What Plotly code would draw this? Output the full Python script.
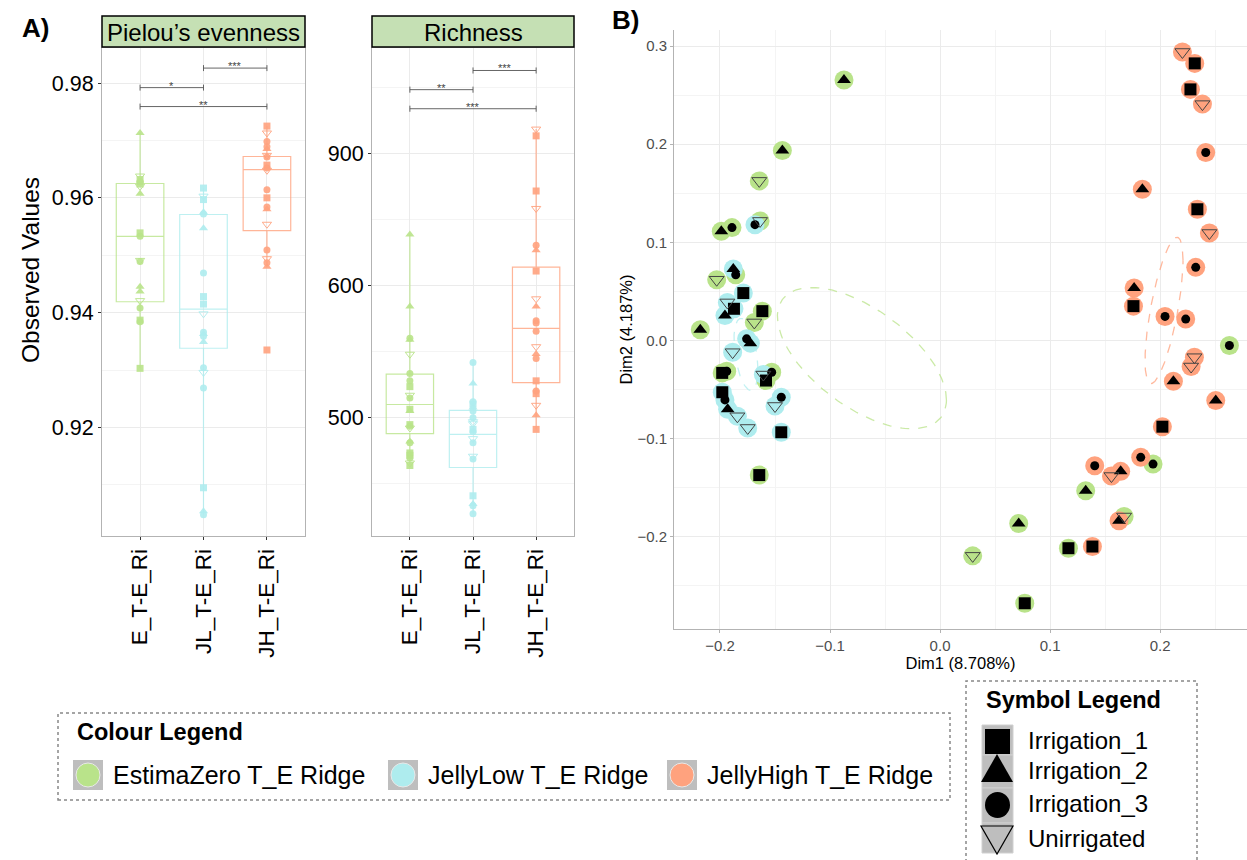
import numpy as np
import plotly.graph_objects as go

W, H = 1247, 860
FONT = "Liberation Sans, Arial, Helvetica, sans-serif"

# ---------------- data ----------------
groups = ["E_T-E_Ri", "JL_T-E_Ri", "JH_T-E_Ri"]
group_names = ["EstimaZero T_E Ridge", "JellyLow T_E Ridge", "JellyHigh T_E Ridge"]
group_colors = ["#B9E38A", "#AEECEE", "#FFA27E"]
irrig_levels = ["Irrigation_1", "Irrigation_2", "Irrigation_3", "Unirrigated"]
irrig_codes = ["S", "T", "C", "D"]

# Pielou's evenness: (irrigation code, value) per sample
pielou_E = [("T", 0.9713), ("D", 0.9638), ("S", 0.9632), ("C", 0.9628), ("S", 0.9624), ("D", 0.9620),
            ("T", 0.9607), ("S", 0.9539), ("C", 0.9533), ("D", 0.9491), ("C", 0.9489), ("T", 0.9445),
            ("T", 0.9437), ("D", 0.9421), ("C", 0.9408), ("S", 0.9387), ("C", 0.9384), ("S", 0.9303)]
pielou_JL = [("S", 0.9617), ("D", 0.9603), ("S", 0.9597), ("T", 0.9575), ("C", 0.9572), ("T", 0.9547),
             ("C", 0.9469), ("S", 0.9428), ("S", 0.9415), ("D", 0.9398), ("C", 0.9366), ("T", 0.9363),
             ("C", 0.9359), ("T", 0.9349), ("C", 0.9304), ("D", 0.9296), ("C", 0.9269), ("S", 0.9095),
             ("T", 0.9054), ("C", 0.9048)]
pielou_JH = [("S", 0.9725), ("D", 0.9713), ("C", 0.9698), ("C", 0.9689), ("T", 0.9685), ("D", 0.9674),
             ("C", 0.9671), ("S", 0.9657), ("C", 0.9652), ("D", 0.9648), ("C", 0.9614), ("S", 0.9600),
             ("C", 0.9584), ("T", 0.9580), ("D", 0.9554), ("C", 0.9509), ("D", 0.9494), ("C", 0.9487),
             ("T", 0.9480), ("S", 0.9335)]
pielou_q1 = [0.9419, 0.9338, 0.9543]
pielou_median = [0.9533, 0.9406, 0.9649]
pielou_q3 = [0.9625, 0.9571, 0.9672]
pielou_lower = [0.9303, 0.9048, 0.9480]
pielou_upper = [0.9713, 0.9617, 0.9725]
pielou_ticks = [0.92, 0.94, 0.96, 0.98]
pielou_tick_labels = ["0.92", "0.94", "0.96", "0.98"]
pielou_brackets = [(0, 1, 0.9792, "*"), (1, 2, 0.9826, "***"), (0, 2, 0.9759, "**")]

# Richness (values on the panel's linear position scale; tick labels as printed in the figure)
rich_E = [("T", 638.5), ("T", 584.0), ("C", 560.0), ("T", 559.0), ("D", 548.0), ("C", 533.4), ("C", 528.0),
          ("S", 523.5), ("D", 517.0), ("C", 515.0), ("S", 506.4), ("T", 505.0), ("S", 494.8), ("C", 493.5),
          ("D", 492.2), ("T", 482.0), ("C", 481.0), ("S", 473.4), ("S", 471.6), ("C", 469.6), ("D", 465.8),
          ("S", 463.9)]
rich_JL = [("C", 541.8), ("T", 525.8), ("C", 512.0), ("S", 510.2), ("T", 507.7), ("C", 505.1), ("C", 500.0),
           ("D", 497.0), ("D", 495.5), ("S", 491.2), ("C", 489.4), ("D", 484.2), ("C", 481.0), ("D", 470.9),
           ("C", 468.9), ("S", 441.0), ("T", 434.7), ("C", 433.5), ("C", 427.4)]
rich_JH = [("D", 718.2), ("S", 713.1), ("S", 671.4), ("D", 658.2), ("C", 630.4), ("T", 626.6), ("S", 610.9),
           ("D", 589.9), ("T", 584.0), ("C", 573.4), ("C", 571.7), ("C", 565.3), ("D", 553.7), ("T", 548.1),
           ("C", 544.8), ("S", 527.9), ("C", 520.3), ("S", 518.2), ("D", 509.4), ("T", 501.8), ("S", 491.2)]
rich_q1 = [488.0, 462.4, 526.6]
rich_median = [510.0, 487.4, 567.6]
rich_q3 = [533.0, 505.6, 613.9]
rich_lower = [464.0, 427.4, 491.2]
rich_upper = [638.5, 541.8, 718.2]
rich_tick_pos = [500, 600, 700]
rich_tick_labels = ["500", "600", "900"]
rich_brackets = [(0, 1, 748.0, "**"), (1, 2, 762.5, "***"), (0, 2, 733.6, "***")]

# PCoA ordination: Dim1, Dim2, group index, irrigation code
pc_x = [-0.0873, -0.1433, -0.1643, -0.1636, -0.1988, -0.1891, -0.1857, -0.2030, -0.1615, -0.1688,
        -0.2179, -0.1980, -0.1939, -0.1530, -0.1582, -0.1643, 0.2630, 0.1936, 0.1324, 0.1673,
        0.0715, 0.1167, 0.0297, 0.0770,
        -0.1682, -0.1879, -0.1788, -0.1933, -0.1873, -0.1955, -0.1758, -0.1724, -0.1885, -0.1606,
        -0.1979, -0.1955, -0.1930, -0.1842, -0.1443, -0.1500, -0.1748, -0.1443,
        0.2203, 0.2315, 0.2276, 0.2385, 0.2415, 0.1839, 0.2339, 0.2448, 0.2324, 0.1764, 0.1758,
        0.2045, 0.2233, 0.2312, 0.2282, 0.2121, 0.2506, 0.2021, 0.1824, 0.1406, 0.1558, 0.1642,
        0.1627, 0.1385]
pc_y = [0.2653, 0.1935, 0.1626, 0.1218, 0.1112, 0.1150, 0.0670, 0.0619, 0.0299, 0.0184,
        0.0109, -0.0330, -0.0313, -0.0323, -0.0408, -0.1371, -0.0051, -0.1259, -0.1531, -0.1793,
        -0.1864, -0.2116, -0.2194, -0.2677,
        0.1180, 0.0728, 0.0483, 0.0388, 0.0323, 0.0255, 0.0017, -0.0027, -0.0119, -0.0347,
        -0.0527, -0.0605, -0.0701, -0.0772, -0.0578, -0.0667, -0.0891, -0.0935,
        0.2939, 0.2823, 0.2558, 0.2408, 0.1915, 0.1541, 0.1337, 0.1095, 0.0745, 0.0534, 0.0350,
        0.0245, 0.0218, -0.0170, -0.0265, -0.0415, -0.0612, -0.0878, -0.1190, -0.1276, -0.1381, -0.1333,
        -0.1837, -0.2099]
pc_group = [0] * 24 + [1] * 18 + [2] * 24
pc_irrig = ["T", "T", "D", "D", "T", "C", "C", "D", "S", "D",
            "T", "S", "C", "C", "S", "S", "C", "C", "T", "D",
            "T", "S", "D", "S",
            "C", "T", "S", "D", "S", "T", "C", "T", "D", "D",
            "S", "C", "T", "D", "C", "D", "D", "S",
            "D", "S", "S", "D", "C", "T", "S", "D", "C", "T", "S",
            "C", "C", "D", "D", "T", "T", "S", "C", "C", "D", "T",
            "T", "S"]

# 95% ellipses (centre, covariance) per group
ell_center = [(-0.071, -0.018), (-0.1764, -0.0143), (0.2036, 0.0306)]
ell_cov = [[[0.00590, -0.00327], [-0.00327, 0.00518]],
           [[0.000119, -0.000167], [-0.000167, 0.00135]],
           [[0.000298, 0.00088], [0.00088, 0.00555]]]

# ---------------- helpers ----------------
def PX(px):
    return px / W


def PY(py):
    return 1 - py / H


small_symbol = {"S": "square", "T": "triangle-up", "C": "circle", "D": "triangle-down-open"}
small_size = {"S": 7, "T": 8, "C": 7, "D": 8}
big_symbol = {"S": "square", "T": "triangle-up", "C": "circle", "D": "triangle-down-open"}
big_size = {"S": 12, "T": 12, "C": 9, "D": 13}


def hex_rgba(h, a):
    h = h.lstrip("#")
    r, g, b = int(h[0:2], 16), int(h[2:4], 16), int(h[4:6], 16)
    return f"rgba({r},{g},{b},{a})"


fig = go.Figure()
shapes = []
annotations = []

# ---------------- panel A: box plots ----------------
panels = [
    dict(xa="x", ya="y", data=[pielou_E, pielou_JL, pielou_JH], q1=pielou_q1, med=pielou_median,
         q3=pielou_q3, lo=pielou_lower, hi=pielou_upper, br=pielou_brackets, tick=0.00052),
    dict(xa="x2", ya="y2", data=[rich_E, rich_JL, rich_JH], q1=rich_q1, med=rich_median,
         q3=rich_q3, lo=rich_lower, hi=rich_upper, br=rich_brackets, tick=2.3),
]
for p in panels:
    for gi in range(3):
        fig.add_trace(go.Box(
            x=[gi], q1=[p["q1"][gi]], median=[p["med"][gi]], q3=[p["q3"][gi]],
            lowerfence=[p["lo"][gi]], upperfence=[p["hi"][gi]],
            width=0.75, whiskerwidth=0, boxpoints=False,
            line=dict(color=hex_rgba(group_colors[gi], 0.8), width=1.2),
            fillcolor="rgba(255,255,255,0)", xaxis=p["xa"], yaxis=p["ya"],
            showlegend=False, hoverinfo="skip"))
    for gi in range(3):
        for code in irrig_codes:
            ys = [v for c, v in p["data"][gi] if c == code]
            if not ys:
                continue
            fig.add_trace(go.Scatter(
                x=[gi] * len(ys), y=ys, mode="markers", xaxis=p["xa"], yaxis=p["ya"],
                marker=dict(symbol=small_symbol[code], size=small_size[code],
                            color=hex_rgba(group_colors[gi], 0.9),
                            line=dict(width=1 if code == "D" else 0, color=hex_rgba(group_colors[gi], 0.9))),
                showlegend=False, hoverinfo="skip"))
    bx, by = [], []
    for i, j, yv, lab in p["br"]:
        d = p["tick"]
        bx += [i, i, None, i, j, None, j, j, None]
        by += [yv - d, yv + d, None, yv, yv, None, yv - d, yv + d, None]
        annotations.append(dict(x=(i + j) / 2, y=yv, xref=p["xa"], yref=p["ya"], text=lab, showarrow=False,
                                font=dict(size=11, color="#444", family=FONT), yanchor="middle", yshift=2))
    fig.add_trace(go.Scatter(x=bx, y=by, mode="lines", xaxis=p["xa"], yaxis=p["ya"],
                             line=dict(color="#555", width=0.9), showlegend=False, hoverinfo="skip"))

# ---------------- panel B: PCoA ----------------
for gi in range(3):
    c = np.array(ell_center[gi])
    L = np.linalg.cholesky(np.array(ell_cov[gi]))
    t = np.linspace(0, 2 * np.pi, 200)
    pts = c[:, None] + L @ np.vstack([np.cos(t), np.sin(t)])
    fig.add_trace(go.Scatter(x=pts[0], y=pts[1], mode="lines", xaxis="x3", yaxis="y3",
                             line=dict(color=hex_rgba(group_colors[gi], 0.75), width=1.3, dash="dash"),
                             showlegend=False, hoverinfo="skip"))

pcx = np.array(pc_x)
pcy = np.array(pc_y)
pcg = np.array(pc_group)
pci = np.array(pc_irrig)
for gi in range(3):
    m = pcg == gi
    fig.add_trace(go.Scatter(x=pcx[m], y=pcy[m], mode="markers", xaxis="x3", yaxis="y3",
                             marker=dict(symbol="circle", size=19, color=group_colors[gi], line=dict(width=0)),
                             name=group_names[gi], showlegend=False))
for code, lev in zip(irrig_codes, irrig_levels):
    m = pci == code
    fig.add_trace(go.Scatter(x=pcx[m], y=pcy[m], mode="markers", xaxis="x3", yaxis="y3",
                             marker=dict(symbol=big_symbol[code], size=big_size[code],
                                         color="black" if code != "D" else "#444",
                                         line=dict(width=1 if code == "D" else 0, color="#444")),
                             name=lev, showlegend=False))

# ---------------- axes ----------------
grid = "#ebebeb"
minor_grid = "#f4f4f4"
frame = "#b3b3b3"
ax_common = dict(showline=True, linecolor=frame, linewidth=1, ticks="outside", ticklen=3,
                 tickcolor="#333", automargin=False, zeroline=False, showgrid=True, gridcolor=grid)

xA = dict(ax_common, range=[-0.6, 2.6], tickmode="array", tickvals=[0, 1, 2], ticktext=groups,
          tickangle=-90, mirror=True, tickfont=dict(size=22.5, color="black", family=FONT))
fig.update_layout(
    xaxis=dict(xA, domain=[PX(102), PX(305)], anchor="y"),
    yaxis=dict(ax_common, domain=[PY(536), PY(48)], anchor="x", mirror=True, range=[0.9011, 0.9861],
               tickmode="array", tickvals=pielou_ticks, ticktext=pielou_tick_labels,
               tickfont=dict(size=21.5, color="black", family=FONT),
               minor=dict(tickmode="array", tickvals=[0.91, 0.93, 0.95, 0.97], showgrid=True,
                          gridcolor=minor_grid)),
    xaxis2=dict(xA, domain=[PX(372), PX(574)], anchor="y2"),
    yaxis2=dict(ax_common, domain=[PY(536), PY(48)], anchor="x2", mirror=True, range=[410.6, 779.5],
                tickmode="array", tickvals=rich_tick_pos, ticktext=rich_tick_labels,
                tickfont=dict(size=21.5, color="black", family=FONT),
                minor=dict(tickmode="array", tickvals=[450, 550, 650, 750], showgrid=True,
                           gridcolor=minor_grid)),
    xaxis3=dict(ax_common, domain=[PX(674), 1.0], anchor="y3", range=[-0.2418, 0.279],
                tickmode="linear", tick0=0, dtick=0.1, tickformat=".1f", tickcolor=frame,
                tickfont=dict(size=15, color="#4d4d4d", family=FONT),
                minor=dict(dtick=0.05, tick0=0, showgrid=True, gridcolor=minor_grid),
                title=dict(text="Dim1 (8.708%)", font=dict(size=16.5, color="black", family=FONT), standoff=3)),
    yaxis3=dict(ax_common, domain=[PY(629), PY(30)], anchor="x3", range=[-0.2939, 0.3163],
                tickmode="linear", tick0=0, dtick=0.1, tickformat=".1f", tickcolor=frame,
                tickfont=dict(size=15, color="#4d4d4d", family=FONT),
                minor=dict(dtick=0.05, tick0=0, showgrid=True, gridcolor=minor_grid),
                title=dict(text="Dim2 (4.187%)", font=dict(size=16.5, color="black", family=FONT), standoff=0)),
)

# ---------------- strips, labels ----------------
for (x0, x1), label in [((102, 305), "Pielou’s evenness"), ((372, 574), "Richness")]:
    shapes.append(dict(type="rect", xref="paper", yref="paper", x0=PX(x0), x1=PX(x1), y0=PY(47), y1=PY(16),
                       fillcolor="#C5E0B4", line=dict(color="black", width=1.5), layer="above"))
    annotations.append(dict(xref="paper", yref="paper", x=PX((x0 + x1) / 2), y=PY(32), text=label,
                            showarrow=False, font=dict(size=24, color="black", family=FONT),
                            xanchor="center", yanchor="middle"))

annotations.append(dict(xref="paper", yref="paper", x=PX(30), y=PY(270), text="Observed Values",
                        textangle=-90, showarrow=False, font=dict(size=24.5, color="black", family=FONT),
                        xanchor="center", yanchor="middle"))
annotations.append(dict(xref="paper", yref="paper", x=PX(20), y=PY(28), text="<b>A)</b>", showarrow=False,
                        font=dict(size=26, color="black", family=FONT), xanchor="left", yanchor="middle"))
annotations.append(dict(xref="paper", yref="paper", x=PX(610), y=PY(20), text="<b>B)</b>", showarrow=False,
                        font=dict(size=26, color="black", family=FONT), xanchor="left", yanchor="middle"))

# ---------------- Colour legend ----------------
shapes.append(dict(type="rect", xref="paper", yref="paper", x0=PX(58), x1=PX(950), y0=PY(800), y1=PY(713),
                   line=dict(color="#888", width=1.5, dash="dot"), fillcolor="rgba(0,0,0,0)"))
annotations.append(dict(xref="paper", yref="paper", x=PX(75), y=PY(732), text="<b>Colour Legend</b>",
                        showarrow=False, font=dict(size=23.5, color="black", family=FONT),
                        xanchor="left", yanchor="middle"))
key_x = [73, 388, 667]
for gi in range(3):
    kx = key_x[gi]
    shapes.append(dict(type="rect", xref="paper", yref="paper", x0=PX(kx), x1=PX(kx + 30), y0=PY(790),
                       y1=PY(760), fillcolor="#bebebe", line=dict(width=0)))
    shapes.append(dict(type="circle", xref="paper", yref="paper", x0=PX(kx + 3), x1=PX(kx + 27), y0=PY(787),
                       y1=PY(763), fillcolor=group_colors[gi], line=dict(color="#e8e8e8", width=1)))
    annotations.append(dict(xref="paper", yref="paper", x=PX(kx + 38), y=PY(775), text=group_names[gi],
                            showarrow=False, font=dict(size=25, color="black", family=FONT),
                            xanchor="left", yanchor="middle"))

# ---------------- Symbol legend ----------------
shapes.append(dict(type="rect", xref="paper", yref="paper", x0=PX(966), x1=PX(1197), y0=PY(875), y1=PY(681),
                   line=dict(color="#888", width=1.5, dash="dot"), fillcolor="rgba(0,0,0,0)"))
annotations.append(dict(xref="paper", yref="paper", x=PX(984), y=PY(700), text="<b>Symbol Legend</b>",
                        showarrow=False, font=dict(size=23.5, color="black", family=FONT),
                        xanchor="left", yanchor="middle"))
key_rows = [(725, 755), (755, 788), (788, 823), (823, 853)]
label_y = [740, 770, 803, 838]
for (y0, y1) in key_rows:
    shapes.append(dict(type="rect", xref="paper", yref="paper", x0=PX(982), x1=PX(1013), y0=PY(y1), y1=PY(y0),
                       fillcolor="#bebebe", line=dict(color="#d0d0d0", width=1)))


def path(pts, close=True):
    s = "M " + " L ".join(f"{PX(a):.5f},{PY(b):.5f}" for a, b in pts)
    return s + (" Z" if close else "")


shapes.append(dict(type="rect", xref="paper", yref="paper", x0=PX(985), x1=PX(1010), y0=PY(754), y1=PY(729),
                   fillcolor="black", line=dict(width=0)))
shapes.append(dict(type="path", xref="paper", yref="paper", path=path([(981, 782), (997, 754), (1013, 782)]),
                   fillcolor="black", line=dict(width=0)))
shapes.append(dict(type="circle", xref="paper", yref="paper", x0=PX(985), x1=PX(1010), y0=PY(818), y1=PY(792),
                   fillcolor="black", line=dict(width=0)))
shapes.append(dict(type="path", xref="paper", yref="paper", path=path([(981, 826), (1013, 826), (997, 854)]),
                   fillcolor="rgba(0,0,0,0)", line=dict(color="black", width=1.2)))
for lev, ly in zip(irrig_levels, label_y):
    annotations.append(dict(xref="paper", yref="paper", x=PX(1026), y=PY(ly), text=lev, showarrow=False,
                            font=dict(size=24, color="black", family=FONT), xanchor="left", yanchor="middle"))

fig.update_layout(
    template="none", width=W, height=H, autosize=False,
    margin=dict(l=0, r=0, t=0, b=0, pad=0),
    paper_bgcolor="white", plot_bgcolor="white",
    font=dict(family=FONT, color="black"),
    showlegend=False,
)
fig.layout.shapes = shapes
fig.layout.annotations = annotations

fig.write_html("out.html", config={"displayModeBar": False},
               post_script="document.body.style.margin='0';document.body.style.overflow='hidden';")
